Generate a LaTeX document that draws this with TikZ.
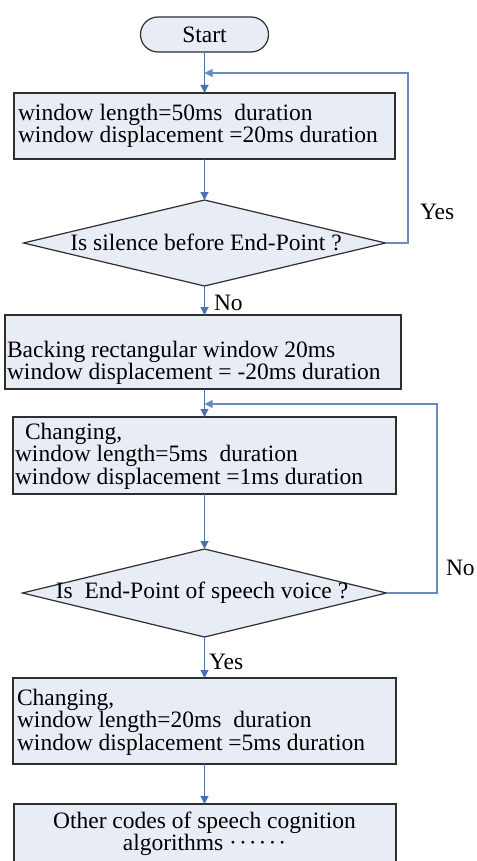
\documentclass[tikz,border=0pt]{standalone}
\usepackage{fontspec}
\setmainfont{Liberation Serif}
\usetikzlibrary{arrows.meta,shapes.geometric}
\definecolor{boxfill}{HTML}{E8ECF5}
\definecolor{boxline}{HTML}{2E2E2E}
\definecolor{arr}{HTML}{4A70AE}
\definecolor{fb}{HTML}{6A8BBB}
\begin{document}
\begin{tikzpicture}[x=1pt,y=-1pt,
  every node/.style={font=\fontsize{23.5}{21}\selectfont, inner sep=0pt, outer sep=0pt, text=black},
  procbox/.style={draw=boxline, line width=1.2pt, fill=boxfill, rectangle},
  termbox/.style={draw=boxline, line width=1.2pt, fill=boxfill, rectangle, rounded corners=17.5pt, minimum width=128pt, minimum height=35pt},
  decbox/.style={draw=boxline, line width=1.2pt, fill=boxfill, diamond},
  txt/.style={anchor=west, align=left},
  flow/.style={draw=arr, line width=1.1pt, -{Triangle[width=8pt,length=8pt]}},
  fbflow/.style={draw=fb, line width=1.1pt, -{Triangle[width=8pt,length=8pt]}},
  lbl/.style={anchor=west}
]
\useasboundingbox (0,0) rectangle (476,861);
\clip (0,0) rectangle (476,861);

% Start
\node[termbox] (start) at (204.5,34.5) {Start};

% Box 1
\node[procbox, minimum width=381pt, minimum height=66pt] (b1) at (204.5,126) {};
\node[txt] (t1) at (18,126) {window length=50ms\ \ duration\\window displacement =20ms duration};

% Decision 1
\node[decbox, minimum width=362pt, minimum height=86pt] (d1) at (204.5,243) {};
\node (dt1) at (206,242) {Is silence before End-Point ?};

% Box 2
\node[procbox, minimum width=396pt, minimum height=74pt] (b2) at (203,352) {};
\node[txt] (t2) at (7,363) {Backing rectangular window 20ms\\window displacement = -20ms duration};

% Box 3
\node[procbox, minimum width=383pt, minimum height=77pt] (b3) at (204.5,455.5) {};
\node[txt] (t3) at (15,456) {\hspace*{10pt}Changing,\\window length=5ms\ \ duration\\window displacement =1ms duration};

% Decision 2
\node[decbox, minimum width=364pt, minimum height=88pt] (d2) at (204.5,593) {};
\node (dt2) at (202,593) {Is\ \ End-Point of speech voice ?};

% Box 4
\node[procbox, minimum width=383pt, minimum height=86pt] (b4) at (204.5,721) {};
\node[txt] (t4) at (17,722) {Changing,\\window length=20ms\ \ duration\\window displacement =5ms duration};

% Box 5
\node[procbox, minimum width=382pt, minimum height=64pt] (b5) at (205,836) {};
\node[align=center, font=\fontsize{23.5}{22.5}\selectfont] (t5) at (204.5,834) {Other codes of speech cognition\\algorithms ·\kern2pt·\kern2pt·\kern2pt·\kern2pt·\kern2pt·};

% Main flow
\draw[flow] (start.south) -- (start.south |- b1.north);
\draw[flow] (b1.south) -- (d1.north);
\draw[flow] (d1.south) -- (d1.south |- b2.north);
\draw[flow] (b2.south -| b1.south) -- (b1.south |- b3.north);
\draw[flow] (b3.south) -- (d2.north);
\draw[flow] (d2.south) -- (d2.south |- b4.north);
\draw[flow] (b4.south) -- (b4.south |- b5.north);

% Feedback loops
\coordinate (j1) at (204.5,73);
\coordinate (c1) at (408,73);
\draw[fbflow] (d1.east) -| (c1) -- (j1);
\coordinate (j2) at (204.5,404);
\coordinate (c2) at (437,404);
\draw[fbflow] (d2.east) -| (c2) -- (j2);

% Labels
\node[lbl] (yes1) at (420,212) {Yes};
\node[lbl] (no1) at (214,303) {No};
\node[lbl] (no2) at (446,568) {No};
\node[lbl] (yes2) at (209,662) {Yes};
\end{tikzpicture}
\end{document}
